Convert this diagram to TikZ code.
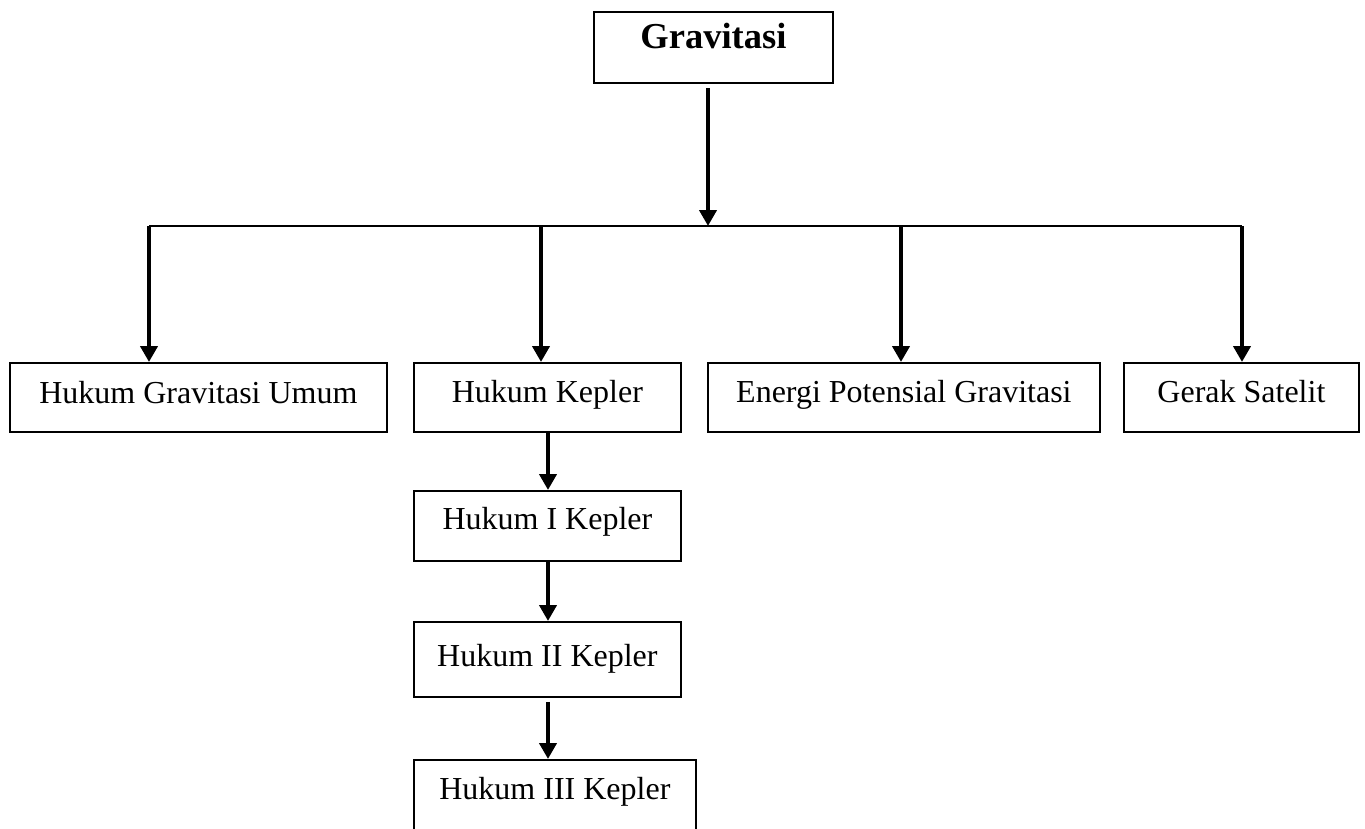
\documentclass[tikz,border=0pt]{standalone}
\usepackage{fontspec}
\setmainfont{Liberation Serif}
\usetikzlibrary{arrows.meta}
\begin{document}
\begin{tikzpicture}[x=1pt,y=-1pt,
  box/.style={draw, line width=1.8pt, inner sep=0pt, anchor=north west,
    font=\fontsize{32}{36}\selectfont},
  link/.style={line width=4pt, -{Triangle[width=17pt,length=16pt]}},
  bar/.style={line width=2pt}]
\useasboundingbox (0,0) rectangle (1365,828);
\clip (0,0) rectangle (1365,828);

% top concept
\node[box, minimum width=239pt, text height=37pt, text depth=34pt,
  font=\fontsize{36.5}{40}\selectfont\bfseries] (grav) at (593,11) {Gravitasi};

% main branches
\node[box, minimum width=377pt, text height=41pt, text depth=28pt] (hgu) at (9,362) {Hukum Gravitasi Umum};
\node[box, minimum width=267pt, text height=40pt, text depth=29pt] (kep) at (413,362) {Hukum Kepler};
\node[box, minimum width=392pt, text height=40pt, text depth=29pt] (epg) at (707,362) {Energi Potensial Gravitasi};
\node[box, minimum width=235pt, text height=40pt, text depth=29pt] (sat) at (1123,362) {Gerak Satelit};

% Kepler's laws
\node[box, minimum width=267pt, text height=39pt, text depth=31pt] (k1) at (413,490) {Hukum I Kepler};
\node[box, minimum width=267pt, text height=45pt, text depth=30pt] (k2) at (413,621) {Hukum II Kepler};
\node[box, minimum width=282pt, text height=40pt, text depth=80pt] (k3) at (413,759) {Hukum III Kepler};

% distribution bar
\coordinate (top) at (708,88);
\coordinate (hub) at (708,226);
\coordinate (b1) at (149,226);
\coordinate (b2) at (541,226);
\coordinate (b3) at (901,226);
\coordinate (b4) at (1242,226);
\draw[bar] (b1) -- (b4);
\draw[link] (top) -- (hub);

\draw[link] (b1) -- (b1 |- hgu.north);
\draw[link] (b2) -- (b2 |- kep.north);
\draw[link] (b3) -- (b3 |- epg.north);
\draw[link] (b4) -- (b4 |- sat.north);

% chain of Kepler's laws
\coordinate (c) at (548,0);
\draw[link] (c |- kep.south) -- (c |- k1.north);
\draw[link] (c |- k1.south) -- (c |- k2.north);
\draw[link] ([yshift=-4pt]c |- k2.south) -- (c |- k3.north);
\end{tikzpicture}
\end{document}
